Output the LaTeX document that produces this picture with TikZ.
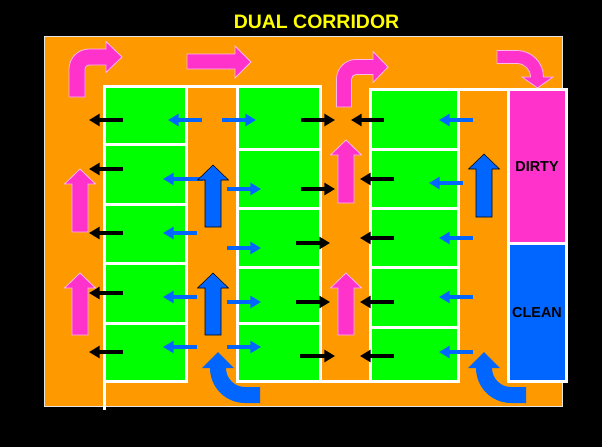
\documentclass[tikz,border=0pt]{standalone}
\usepackage{fontspec}
\setmainfont{Liberation Sans}
\usetikzlibrary{arrows.meta}
\definecolor{orangec}{HTML}{FF9900}
\definecolor{greenc}{HTML}{00FF00}
\definecolor{pinkc}{HTML}{FF33CC}
\definecolor{bluec}{HTML}{0066FF}
\definecolor{yellowc}{HTML}{FFFF00}
\tikzset{
  whiteline/.style={draw=white, line width=2.25pt},
  greenbox/.style={fill=greenc, draw=white, line width=2.25pt},
  thinarr/.style={line width=3pt, -{Triangle[length=8pt,width=9pt]}},
  blackarr/.style={thinarr, draw=black},
  bluearr/.style={thinarr, draw=bluec},
  pinkblock/.style={fill=pinkc, draw=white!65!pinkc, line width=0.6pt, line join=miter},
  blueblock/.style={fill=bluec},
  lbl/.style={font=\bfseries\fontsize{10.8pt}{12pt}\selectfont, text=black, inner sep=0pt},
}
\newcommand\BlockUp[4]{%
  \filldraw[#1] (#2-8,#4) -- (#2-8,#3+15) -- (#2-15.5,#3+15) -- (#2,#3) -- (#2+15.5,#3+15) -- (#2+8,#3+15) -- (#2+8,#4) -- cycle;}
\begin{document}
\begin{tikzpicture}[x=0.75pt, y=-0.75pt]
\fill[black] (0,0) rectangle (602,447);
\useasboundingbox (0,0) rectangle (602,447);
\node[font=\bfseries\fontsize{14.6pt}{16pt}\selectfont, text=yellowc, inner sep=0pt] (title) at (316.5,22) {DUAL CORRIDOR};
\filldraw[fill=orangec, draw=white!80!gray, line width=0.75pt] (44,36) rectangle (562,406);

% green room groups
\foreach \a/\b in {86/144.5,144.5/204,204/263,263/323,323/381}
  \draw[greenbox] (104.5,\a) rectangle (186.5,\b);
\foreach \a/\b in {86/149.5,149.5/208,208/267.5,267.5/323.5,323.5/381}
  \draw[greenbox] (237.5,\a) rectangle (320.5,\b);
\foreach \a/\b in {89.5/149.5,149.5/208,208/267,267/327,327/381}
  \draw[greenbox] (370.5,\a) rectangle (458.5,\b);

% extra white walls
\draw[whiteline] (104.5,381) -- (104.5,410);
\draw[whiteline] (186.5,86) -- (237.5,86);
\draw[whiteline] (320.5,381) -- (370.5,381);
\draw[whiteline] (458.5,89.5) -- (508,89.5);

% dirty / clean
\draw[whiteline, fill=pinkc] (508,89.5) rectangle (566.5,243);
\draw[whiteline, fill=bluec] (508,243) rectangle (566.5,381);
\node[lbl] (dirty) at (537,166.5) {DIRTY};
\node[lbl] (clean) at (537,313) {CLEAN};

% thin arrows group 1
\foreach \y in {120,169,233,293,352}
  \draw[blackarr] (123,\y) -- (89,\y);
\draw[bluearr] (202,120) -- (168,120);
\draw[bluearr] (203,179) -- (163,179);
\foreach \y in {233,297,347}
  \draw[bluearr] (197,\y) -- (163,\y);
% group 2
\draw[bluearr] (222,120) -- (256,120);
\foreach \y in {189,248,302,347}
  \draw[bluearr] (227,\y) -- (261,\y);
\draw[blackarr] (301,120) -- (335,120);
\draw[blackarr] (301,189) -- (335,189);
\draw[blackarr] (296,243) -- (330,243);
\draw[blackarr] (296,302) -- (330,302);
\draw[blackarr] (300,356) -- (335,356);
% group 3
\draw[blackarr] (384,120) -- (351,120);
\foreach \y in {179,238,302,356}
  \draw[blackarr] (394,\y) -- (360,\y);
\draw[bluearr] (473,120) -- (439,120);
\draw[bluearr] (463,183) -- (429,183);
\foreach \y in {238,297,352}
  \draw[bluearr] (473,\y) -- (439,\y);

% straight block arrows
\BlockUp{pinkblock}{80}{169}{232}
\BlockUp{pinkblock}{80}{273}{335}
\BlockUp{pinkblock}{346}{140}{203}
\BlockUp{pinkblock}{346}{273}{335}
\BlockUp{blueblock}{213}{165}{227}
\BlockUp{blueblock}{213}{273}{335}
\BlockUp{blueblock}{484}{154}{217}

% pink top arrows
\filldraw[pinkblock] (69,97) -- (69,69) arc[start angle=180,end angle=270,radius=20]
  -- (106,49) -- (106,41.5) -- (122,57) -- (106,72.5) -- (106,65) -- (89,65)
  arc[start angle=270,end angle=180,radius=4] -- (85,97) -- cycle;
\filldraw[pinkblock] (187,54) -- (235,54) -- (235,46) -- (251,62) -- (235,78) -- (235,69) -- (187,69) -- cycle;
\filldraw[pinkblock] (336.5,107) -- (336.5,79) arc[start angle=180,end angle=270,radius=19.5]
  -- (373,59.5) -- (373,51.5) -- (388,67) -- (373,82.5) -- (373,74.5) -- (356,74.5)
  arc[start angle=270,end angle=180,radius=4.5] -- (351.5,107) -- cycle;
\filldraw[pinkblock] (497,50.5) -- (517,50.5) arc[start angle=270,end angle=360,radius=26.5]
  -- (553,77) -- (537.5,88) -- (522,77) -- (530.5,77)
  arc[start angle=0,end angle=-90,radius=13.5] -- (497,63.5) -- cycle;

% blue curved bottom arrows
\fill[blueblock] (218,352) -- (202,368) -- (210,368) arc[start angle=180,end angle=90,radius=35]
  -- (260,403) -- (260,387) -- (245,387) arc[start angle=90,end angle=180,radius=19]
  -- (234,368) -- cycle;
\fill[blueblock] (484,352) -- (468,368) -- (476,368) arc[start angle=180,end angle=90,radius=35]
  -- (526,403) -- (526,387) -- (511,387) arc[start angle=90,end angle=180,radius=19]
  -- (500,368) -- cycle;
\end{tikzpicture}
\end{document}
